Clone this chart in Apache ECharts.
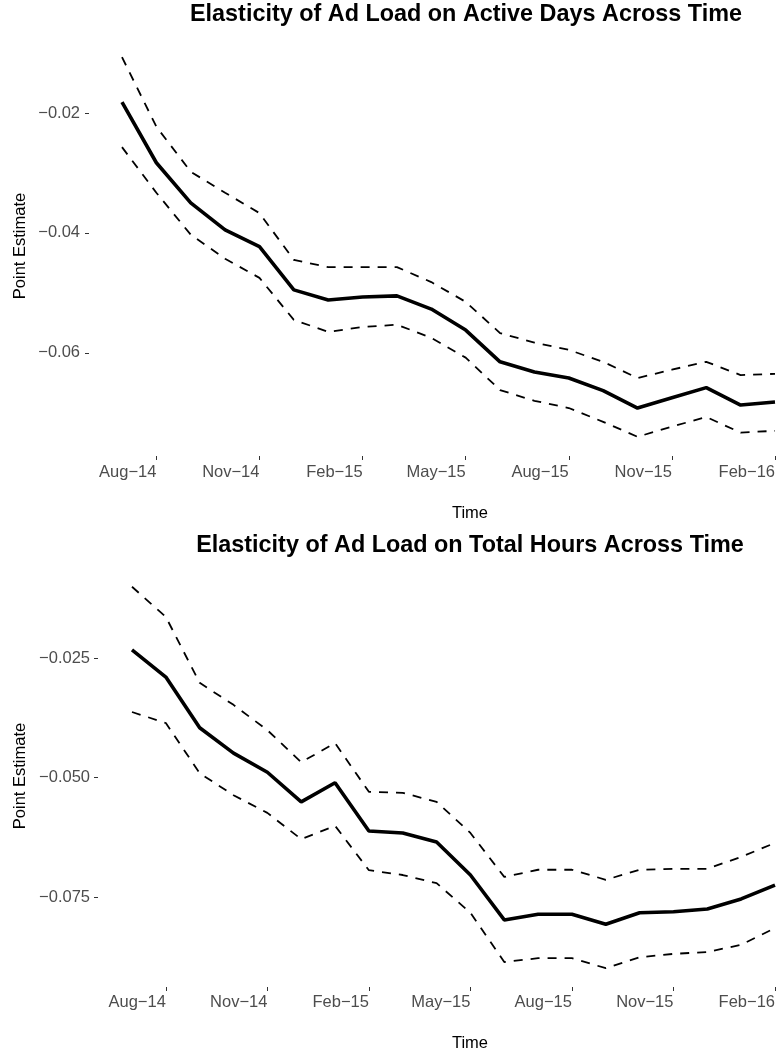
<!DOCTYPE html>
<html>
<head>
<meta charset="utf-8">
<script src="https://cdn.jsdelivr.net/npm/echarts@6/dist/echarts.min.js"></script>
<style>
html,body{margin:0;padding:0;background:#fff;}
#chart{width:778px;height:1055px;}
</style>
</head>
<body>
<div id="chart"></div>
<script>
// ---- data ----
var months = ['Jul\u221214','Aug\u221214','Sep\u221214','Oct\u221214','Nov\u221214','Dec\u221214',
  'Jan\u221215','Feb\u221215','Mar\u221215','Apr\u221215','May\u221215','Jun\u221215',
  'Jul\u221215','Aug\u221215','Sep\u221215','Oct\u221215','Nov\u221215','Dec\u221215',
  'Jan\u221216','Feb\u221216'];

var daysEst   = [-0.0182,-0.0283,-0.0350,-0.0395,-0.0423,-0.0495,-0.0512,-0.0507,-0.0505,-0.0527,
                 -0.0562,-0.0615,-0.0632,-0.0642,-0.0663,-0.0692,-0.0675,-0.0658,-0.0687,-0.0682];
var daysUpper = [-0.0107,-0.0223,-0.0298,-0.0333,-0.0367,-0.0445,-0.0457,-0.0457,-0.0457,-0.0482,
                 -0.0515,-0.0567,-0.0583,-0.0595,-0.0615,-0.0642,-0.0628,-0.0615,-0.0637,-0.0635];
var daysLower = [-0.0257,-0.0333,-0.0403,-0.0443,-0.0475,-0.0545,-0.0565,-0.0557,-0.0553,-0.0575,
                 -0.0608,-0.0662,-0.0680,-0.0692,-0.0715,-0.0740,-0.0723,-0.0707,-0.0733,-0.0730];

var hoursEst   = [-0.0233,-0.0290,-0.0396,-0.0449,-0.0489,-0.0551,-0.0511,-0.0612,-0.0616,-0.0635,
                  -0.0704,-0.0798,-0.0786,-0.0786,-0.0807,-0.0783,-0.0781,-0.0775,-0.0754,-0.0725];
var hoursUpper = [-0.0101,-0.0164,-0.0302,-0.0348,-0.0401,-0.0468,-0.0428,-0.0530,-0.0532,-0.0551,
                  -0.0616,-0.0708,-0.0693,-0.0693,-0.0714,-0.0693,-0.0691,-0.0691,-0.0666,-0.0637];
var hoursLower = [-0.0363,-0.0386,-0.0491,-0.0537,-0.0574,-0.0629,-0.0601,-0.0694,-0.0704,-0.0721,
                  -0.0783,-0.0886,-0.0878,-0.0878,-0.0899,-0.0876,-0.0869,-0.0865,-0.0850,-0.0815];

var daysTicks  = [-0.06,-0.04,-0.02];
var hoursTicks = [-0.075,-0.05,-0.025];

var titles = ['Elasticity of Ad Load on Active Days Across Time',
              'Elasticity of Ad Load on Total Hours Across Time'];
var xName = 'Time';
var yName = 'Point Estimate';

// ---- chart ----
var FONT = '"Liberation Sans", Arial, Helvetica, sans-serif';
function fmt(d){ return function(v){ return (v<0?'\u2212':'') + Math.abs(v).toFixed(d); }; }
function showIdx(i){ return i % 3 === 1; }

function xAxisCfg(gi, margin){
  return {
    type:'category', gridIndex:gi, data:months, boundaryGap:false,
    axisLine:{show:false},
    axisTick:{show:true, interval:function(i){return showIdx(i);}, length:4, lineStyle:{color:'#333333', width:1}},
    axisLabel:{interval:function(i){return showIdx(i);}, align:'right', margin:margin,
      color:'#4D4D4D', fontSize:16.5, fontFamily:FONT},
    splitLine:{show:false}
  };
}
function yAxisCfg(gi, min, max, ticks, dec, off, margin){
  return {
    type:'value', gridIndex:gi, min:min, max:max, offset:off,
    axisLine:{show:false},
    axisTick:{show:true, customValues:ticks, length:4, lineStyle:{color:'#333333', width:1}},
    axisLabel:{customValues:ticks, formatter:fmt(dec), margin:margin,
      color:'#4D4D4D', fontSize:16.5, fontFamily:FONT},
    splitLine:{show:false}
  };
}
function solid(gi, data){
  return {type:'line', xAxisIndex:gi, yAxisIndex:gi, data:data, symbol:'none',
    lineStyle:{color:'#000', width:3.6}, z:3};
}
function dashed(gi, data){
  return {type:'line', xAxisIndex:gi, yAxisIndex:gi, data:data, symbol:'none',
    lineStyle:{color:'#000', width:1.8, type:[9,8]}, z:2};
}

var chart = echarts.init(document.getElementById('chart'), null, {renderer:'canvas'});
chart.setOption({
  animation:false,
  backgroundColor:'#ffffff',
  title:[
    {text:titles[0], left:466, top:15, padding:0, textAlign:'center', textVerticalAlign:'middle',
      textStyle:{fontSize:23.4, fontWeight:'bold', color:'#000', fontFamily:FONT}},
    {text:titles[1], left:470, top:546, padding:0, textAlign:'center', textVerticalAlign:'middle',
      textStyle:{fontSize:23.4, fontWeight:'bold', color:'#000', fontFamily:FONT}}
  ],
  graphic:[
    {type:'text', x:470, y:513, style:{text:xName, align:'center', verticalAlign:'middle',
      fontSize:16.5, fill:'#000', fontFamily:FONT}},
    {type:'text', x:470, y:1043, style:{text:xName, align:'center', verticalAlign:'middle',
      fontSize:16.5, fill:'#000', fontFamily:FONT}},
    {type:'text', x:20, y:246, rotation:Math.PI/2, style:{text:yName, align:'center', verticalAlign:'middle',
      fontSize:16.5, fill:'#000', fontFamily:FONT}},
    {type:'text', x:20, y:776, rotation:Math.PI/2, style:{text:yName, align:'center', verticalAlign:'middle',
      fontSize:16.5, fill:'#000', fontFamily:FONT}}
  ],
  grid:[
    {left:122, right:1, top:38, height:418},
    {left:132, right:1, top:568, height:419}
  ],
  xAxis:[ xAxisCfg(0, 8), xAxisCfg(1, 7) ],
  yAxis:[
    yAxisCfg(0, -0.0772, -0.0075, daysTicks, 2, 33, 9),
    yAxisCfg(1, -0.09383, -0.00617, hoursTicks, 3, 34, 8)
  ],
  series:[
    dashed(0, daysUpper), dashed(0, daysLower), solid(0, daysEst),
    dashed(1, hoursUpper), dashed(1, hoursLower), solid(1, hoursEst)
  ]
});
</script>
</body>
</html>
